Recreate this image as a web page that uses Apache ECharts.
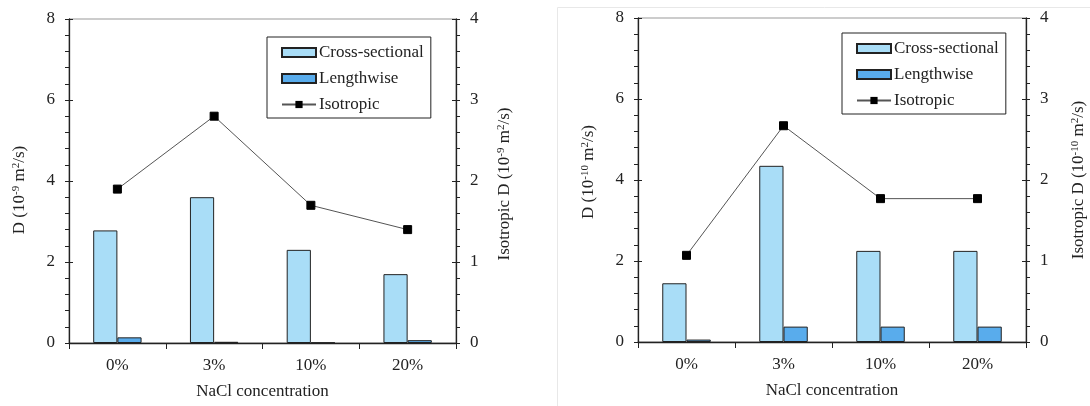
<!DOCTYPE html>
<html>
<head>
<meta charset="utf-8">
<script src="https://cdn.jsdelivr.net/npm/echarts@6/dist/echarts.min.js"></script>
<style>html,body{margin:0;padding:0;background:#fff}#c{width:1090px;height:406px}</style>
</head>
<body>
<div id="c"></div>
<script>
const categories = ['0%', '3%', '10%', '20%'];
const seriesNames = ['Cross-sectional', 'Lengthwise', 'Isotropic'];
// left panel (10^-9 m2/s)
const crossA = [2.78, 3.6, 2.3, 1.7];
const lengthA = [0.14, 0.03, 0.01, 0.07];
const isoA = [1.9, 2.8, 1.7, 1.4];
// right panel (10^-10 m2/s)
const crossB = [1.45, 4.35, 2.25, 2.25];
const lengthB = [0.06, 0.38, 0.38, 0.38];
const isoB = [1.07, 2.67, 1.77, 1.77];
const xTitle = 'NaCl concentration';
const yNameA = '{n|D (10}{s|-9}{n| m}{s|2}{n|/s)}';
const yNameA2 = '{n|Isotropic D (10}{s|-9}{n| m}{s|2}{n|/s)}';
const yNameB = '{n|D (10}{s|-10}{n| m}{s|2}{n|/s)}';
const yNameB2 = '{n|Isotropic D (10}{s|-10}{n| m}{s|2}{n|/s)}';

const FONT = 'Liberation Serif';
const TXT = '#222';
const crossColor = '#a9ddf7';
const lengthColor = '#59acec';
const rich = {
  n: {fontFamily: FONT, fontSize: 17, color: TXT, lineHeight: 18},
  s: {fontFamily: FONT, fontSize: 11, color: TXT, verticalAlign: 'top', lineHeight: 18}
};

const chart = echarts.init(document.getElementById('c'), null, {renderer: 'canvas'});

function xAxisFor(g) {
  return {
    type: 'category', gridIndex: g, data: categories,
    axisLine: {lineStyle: {color: TXT, width: 1.3}},
    axisTick: {show: true, length: 6, alignWithLabel: false, lineStyle: {color: TXT}},
    axisLabel: {fontFamily: FONT, fontSize: 17, color: TXT, margin: 14},
    name: xTitle, nameLocation: 'middle', nameGap: 40,
    nameTextStyle: {fontFamily: FONT, fontSize: 17, color: TXT}
  };
}
function yAxisFor(g, pos, max, interval, name, gap, shift) {
  return {
    type: 'value', gridIndex: g, position: pos, min: 0, max: max, interval: interval,
    axisLine: {show: true, lineStyle: {color: TXT, width: 1.3}},
    axisTick: {show: true, length: 4, inside: false, lineStyle: {color: TXT}},
    minorTick: {show: true, splitNumber: 5, length: 4, lineStyle: {color: TXT}},
    splitLine: {show: false},
    axisLabel: {fontFamily: FONT, fontSize: 17, color: TXT, margin: 14},
    name: name, nameLocation: 'middle', nameGap: gap, nameRotate: 90,
    nameTextStyle: {rich: rich, padding: shift}
  };
}
function yInner(g, pos, max, interval) {
  return {
    type: 'value', gridIndex: g, position: pos, min: 0, max: max, interval: interval,
    axisLine: {show: false},
    axisTick: {show: true, length: 4, inside: true, lineStyle: {color: TXT}},
    splitLine: {show: false}, axisLabel: {show: false}
  };
}
function barSeries(name, data, color, xi, yi) {
  return {
    name: name, type: 'bar', xAxisIndex: xi, yAxisIndex: yi, data: data,
    barWidth: '25%', barGap: '0%',
    itemStyle: {color: color, borderColor: TXT, borderWidth: 1}
  };
}
function lineSeries(name, data, xi, yi) {
  return {
    name: name, type: 'line', xAxisIndex: xi, yAxisIndex: yi, data: data,
    symbol: 'rect', symbolSize: 8,
    lineStyle: {color: '#555', width: 1},
    itemStyle: {color: '#000', borderColor: '#000'}
  };
}
function legendFor(left, top) {
  return {
    left: left, top: top, orient: 'vertical',
    data: [
      {name: seriesNames[0], icon: 'rect'},
      {name: seriesNames[1], icon: 'rect'},
      {name: seriesNames[2]}
    ],
    itemWidth: 34, itemHeight: 9, itemGap: 9,
    borderColor: TXT, borderWidth: 1, padding: [7, 7, 5, 14],
    textStyle: {fontFamily: FONT, fontSize: 17, color: TXT, padding: [0, 0, 0, -2]},
    selectedMode: false
  };
}

const option = {
  backgroundColor: '#fff',
  animation: false,
  graphic: [{
    type: 'rect', left: 555, top: 5, shape: {width: 540, height: 410},
    style: {fill: 'none', stroke: '#e8e8e8', lineWidth: 1}, silent: true
  }],
  legend: [legendFor(267, 37), legendFor(842, 33)],
  grid: [
    {left: 69, right: 634, top: 19, bottom: 63, show: true, borderColor: '#999', borderWidth: 1},
    {left: 638, right: 64, top: 18, bottom: 64, show: true, borderColor: '#999', borderWidth: 1}
  ],
  xAxis: [xAxisFor(0), xAxisFor(1)],
  yAxis: [
    yAxisFor(0, 'left', 8, 2, yNameA, 40, [0, 18, 0, 0]),
    yAxisFor(0, 'right', 4, 1, yNameA2, 40, [0, 6, 0, 0]),
    yAxisFor(1, 'left', 8, 2, yNameB, 40, [0, 0, 0, 16]),
    yAxisFor(1, 'right', 4, 1, yNameB2, 44, [0, 0, 0, 0]),
    yInner(0, 'left', 8, 2), yInner(0, 'right', 4, 1),
    yInner(1, 'left', 8, 2), yInner(1, 'right', 4, 1)
  ],
  series: [
    barSeries('Cross-sectional', crossA, crossColor, 0, 0),
    barSeries('Lengthwise', lengthA, lengthColor, 0, 0),
    lineSeries('Isotropic', isoA, 0, 1),
    barSeries('Cross-sectional', crossB, crossColor, 1, 2),
    barSeries('Lengthwise', lengthB, lengthColor, 1, 2),
    lineSeries('Isotropic', isoB, 1, 3)
  ]
};
chart.setOption(option);
</script>
</body>
</html>
